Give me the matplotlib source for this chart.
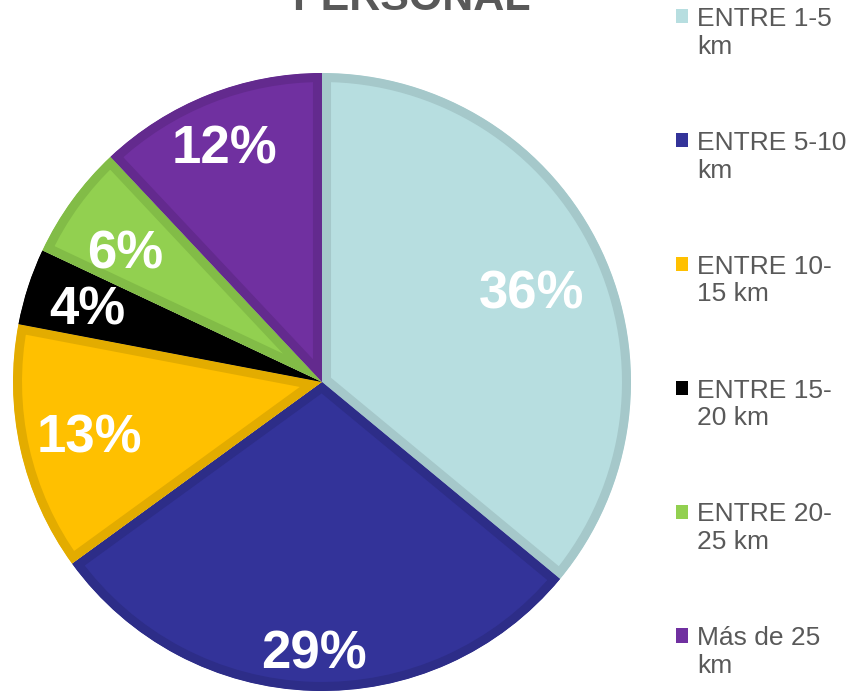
import matplotlib
matplotlib.use("Agg")
import matplotlib.pyplot as plt
from matplotlib.patches import Rectangle
from matplotlib.legend_handler import HandlerPatch
from matplotlib.transforms import offset_copy
import numpy as np

plt.rcParams['font.family'] = ['Liberation Sans', 'DejaVu Sans']

categories = ["ENTRE 1-5\nkm", "ENTRE 5-10\nkm", "ENTRE 10-\n15 km", "ENTRE 15-\n20 km",
              "ENTRE 20-\n25 km", "Más de 25\nkm"]
values = [36, 29, 13, 4, 6, 12]
title = "PERSONAL"

face_colors = ["#B7DEE0", "#333399", "#FFC000", "#000000", "#92D050", "#7030A0"]
edge_colors = ["#A5C8CA", "#2D2D88", "#E3AC00", "#000000", "#82BC47", "#632A8E"]
label_dist = [0.742, 0.868, 0.770, 0.800, 0.767, 0.829]
label_dang = [-1.5, 0.0, 0.0, 0.0, 2.0, 0.7]

W, H = 855, 695
fig = plt.figure(figsize=(W / 100, H / 100), dpi=100)
cx, cy, r = 322, 382, 309
ax = fig.add_axes([(cx - r) / W, (H - cy - r) / H, 2 * r / W, 2 * r / H])

LFS = 38
wedges, texts, autotexts = ax.pie(
    values, colors=face_colors, startangle=90, counterclock=False, radius=1,
    autopct=lambda p: f"{p:.0f}%", pctdistance=0.8,
    textprops=dict(color="white", fontsize=LFS, fontweight="bold"))
for w, ec in zip(wedges, edge_colors):
    w.set_edgecolor(ec)
    w.set_linewidth(13)
    w.set_clip_on(True)
    w.set_clip_path(w)
tr = offset_copy(ax.transData, fig=fig, x=0, y=-LFS * 0.716 / 2, units="points")
for t, d, da, w in zip(autotexts, label_dist, label_dang, wedges):
    ang = np.deg2rad((w.theta1 + w.theta2) / 2 + da)
    t.set_position((d * np.cos(ang), d * np.sin(ang)))
    t.set_transform(tr)
    t.set_ha("center")
    t.set_va("baseline")
ax.set_xlim(-1, 1)
ax.set_ylim(-1, 1)
ax.set_aspect("equal")
ax.axis("off")

fig.text(411 / W, 1 - 10 / H, title, ha="center", va="baseline",
         fontsize=31, fontweight="bold", color="#595959")

FS = 19


def first_line_square(legend, orig_handle, xdescent, ydescent, width, height, fontsize):
    return Rectangle((-xdescent, -ydescent + 0.63 * fontsize), width, height)


handles = [Rectangle((0, 0), 1, 1, facecolor=c, edgecolor="none") for c in face_colors]
leg = fig.legend(handles, categories, loc="upper left",
                 bbox_to_anchor=(676 / W, 1 - 7 / H), frameon=False,
                 fontsize=FS, labelcolor="#595959", handlelength=0.45,
                 handleheight=0.45, handletextpad=0.34, labelspacing=2.73,
                 borderaxespad=0, borderpad=0,
                 handler_map={Rectangle: HandlerPatch(patch_func=first_line_square)})

fig.savefig("out.png", dpi=100)
